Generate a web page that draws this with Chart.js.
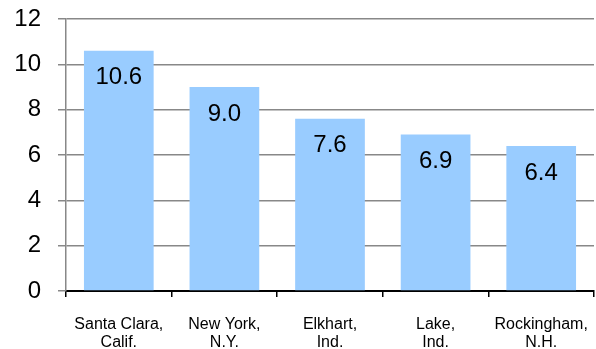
<!DOCTYPE html>
<html>
<head>
<meta charset="utf-8">
<script src="https://cdn.jsdelivr.net/npm/chart.js@4"></script>
<style>
  html, body { margin: 0; padding: 0; background: #fff; }
  #wrap { width: 596px; height: 349px; }
</style>
</head>
<body>
<div id="wrap"><canvas id="chart" width="596" height="349"></canvas></div>
<script>
const counties = [["Santa Clara,", "Calif."], ["New York,", "N.Y."], ["Elkhart,", "Ind."], ["Lake,", "Ind."], ["Rockingham,", "N.H."]];
const values = [10.6, 9.0, 7.6, 6.9, 6.4];
const yTicks = [0, 2, 4, 6, 8, 10, 12];

// draws the value inside the top of each bar
const barLabels = {
  id: "barLabels",
  afterDatasetsDraw(chart) {
    const ctx = chart.ctx;
    const meta = chart.getDatasetMeta(0);
    ctx.save();
    ctx.font = "24px 'Liberation Sans', Arial, sans-serif";
    ctx.fillStyle = "#000";
    ctx.textAlign = "center";
    ctx.textBaseline = "middle";
    meta.data.forEach((bar, i) => {
      ctx.fillText(values[i].toFixed(1), bar.x, bar.y + 27);
    });
    ctx.restore();
  },
};

new Chart(document.getElementById("chart"), {
  type: "bar",
  data: {
    labels: counties,
    datasets: [
      {
        data: values,
        backgroundColor: "#99ccff",
        borderWidth: 0,
        categoryPercentage: 0.66,
        barPercentage: 1,
      },
    ],
  },
  options: {
    responsive: false,
    animation: false,
    layout: { padding: { top: 19, right: 2, left: 0, bottom: 0 } },
    plugins: {
      legend: { display: false },
      tooltip: { enabled: false },
    },
    scales: {
      x: {
        grid: {
          offset: true,
          drawOnChartArea: false,
          drawTicks: true,
          tickLength: 6,
          color: "#000",
          lineWidth: 1.5,
        },
        border: { color: "#000", width: 2 },
        ticks: {
          color: "#000",
          font: { family: "'Liberation Sans', Arial, sans-serif", size: 16, lineHeight: 1.15 },
          padding: 18,
          maxRotation: 0,
          autoSkip: false,
        },
        afterFit(scale) {
          scale.height = 58;
          scale.paddingLeft = 0;
          scale.paddingRight = 0;
        },
      },
      y: {
        min: 0,
        max: 12,
        afterBuildTicks(scale) {
          scale.ticks = yTicks.map((v) => ({ value: v }));
        },
        grid: {
          color: "#888",
          lineWidth: 1.5,
          drawTicks: true,
          tickLength: 8,
        },
        border: { color: "#888", width: 1.5 },
        ticks: {
          color: "#000",
          font: { family: "'Liberation Sans', Arial, sans-serif", size: 24 },
          padding: 17,
        },
        afterFit(scale) {
          scale.width = 66;
          scale.paddingTop = 0;
          scale.paddingBottom = 0;
        },
      },
    },
  },
  plugins: [barLabels],
});
</script>
</body>
</html>
